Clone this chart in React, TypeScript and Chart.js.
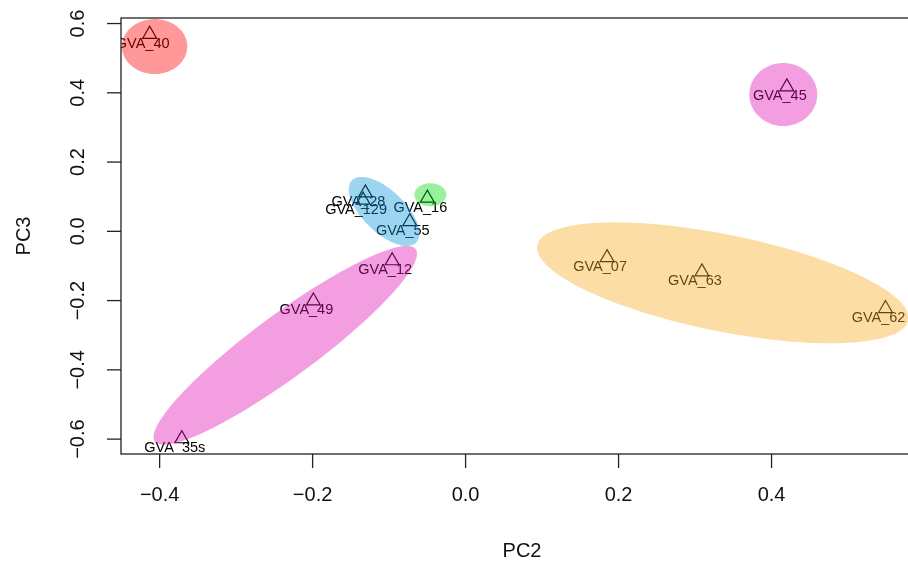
import React, { useEffect, useRef } from "react";
import { Chart, registerables } from "chart.js";

Chart.register(...registerables);

// ---- data ----
const sampleNames = ["GVA_40", "GVA_45", "GVA_28", "GVA_129", "GVA_16", "GVA_55", "GVA_12", "GVA_49", "GVA_35s", "GVA_07", "GVA_63", "GVA_62"];
const pc2Values = [-0.413, 0.42, -0.131, -0.134, -0.05, -0.073, -0.096, -0.199, -0.371, 0.185, 0.309, 0.549];
const pc3Values = [0.569, 0.417, 0.111, 0.09, 0.096, 0.028, -0.085, -0.201, -0.599, -0.076, -0.117, -0.223];

const xTicks = [-0.4, -0.2, 0, 0.2, 0.4];
const yTicks = [-0.6, -0.4, -0.2, 0, 0.2, 0.4, 0.6];
const xTitle = "PC2";
const yTitle = "PC3";
const xRange = [-0.4505, 0.598];
const yRange = [-0.643, 0.616];

// group ellipses (centre + two conjugate semi-axis vectors, data units)
const groupCenterX = [-0.4065, 0.4153, -0.0461, -0.1065, -0.2357, 0.3362];
const groupCenterY = [0.5336, 0.395, 0.1057, 0.0575, -0.3292, -0.1487];
const groupAxisUx = [0.0427, 0.0444, 0.0209, 0.042, 0.1705, 0.2425];
const groupAxisUy = [0, 0, 0, -0.0897, 0.2775, -0.1083];
const groupAxisVx = [0, 0, 0, -0.0191, 0.0243, -0.0125];
const groupAxisVy = [0.0794, 0.091, 0.0332, -0.0436, -0.073, -0.1369];
const groupColors = [
  "rgba(255,0,0,0.4)",
  "rgba(227,12,182,0.4)",
  "rgba(0,220,10,0.4)",
  "rgba(10,150,220,0.4)",
  "rgba(227,12,182,0.4)",
  "rgba(247,170,30,0.4)",
];

const fmt = (v: number) => (v === 0 ? "0.0" : v.toFixed(1).replace("-", "\u2212"));

const FONT = '"Liberation Sans", Arial, Helvetica, sans-serif';

const overlayPlugin = {
  id: "overlay",
  afterDatasetsDraw(chart: any) {
    const { ctx, chartArea: a, scales } = chart;
    const xs = scales.x;
    const ys = scales.y;
    ctx.save();
    ctx.beginPath();
    ctx.rect(a.left, a.top, a.right - a.left, a.bottom - a.top);
    ctx.clip();
    // point labels
    ctx.fillStyle = "#000";
    ctx.font = `14.5px ${FONT}`;
    ctx.textAlign = "center";
    ctx.textBaseline = "middle";
    sampleNames.forEach((n, i) => {
      const px = xs.getPixelForValue(pc2Values[i]);
      const py = ys.getPixelForValue(pc3Values[i]);
      ctx.fillText(n, px - 7, py + 9.5);
    });
    // ellipses on top (semi-transparent)
    groupCenterX.forEach((cx, g) => {
      ctx.beginPath();
      const N = 120;
      for (let k = 0; k <= N; k++) {
        const t = (k / N) * Math.PI * 2;
        const dx = cx + groupAxisUx[g] * Math.cos(t) + groupAxisVx[g] * Math.sin(t);
        const dy = groupCenterY[g] + groupAxisUy[g] * Math.cos(t) + groupAxisVy[g] * Math.sin(t);
        const px = xs.getPixelForValue(dx);
        const py = ys.getPixelForValue(dy);
        if (k === 0) ctx.moveTo(px, py);
        else ctx.lineTo(px, py);
      }
      ctx.closePath();
      ctx.fillStyle = groupColors[g];
      ctx.fill();
    });
    ctx.restore();
  },
  afterDraw(chart: any) {
    const { ctx, chartArea: a, scales } = chart;
    const xs = scales.x;
    const ys = scales.y;
    ctx.save();
    ctx.strokeStyle = "#222";
    ctx.lineWidth = 1.3;
    ctx.strokeRect(a.left, a.top, a.right - a.left, a.bottom - a.top);
    ctx.fillStyle = "#111";
    ctx.font = `20px ${FONT}`;
    ctx.textAlign = "center";
    ctx.textBaseline = "middle";
    xTicks.forEach((v) => {
      const px = xs.getPixelForValue(v);
      ctx.beginPath();
      ctx.moveTo(px, a.bottom);
      ctx.lineTo(px, a.bottom + 14);
      ctx.stroke();
      ctx.fillText(fmt(v), px, a.bottom + 41);
    });
    yTicks.forEach((v) => {
      const py = ys.getPixelForValue(v);
      ctx.beginPath();
      ctx.moveTo(a.left, py);
      ctx.lineTo(a.left - 14, py);
      ctx.stroke();
      ctx.save();
      ctx.translate(a.left - 43, py);
      ctx.rotate(-Math.PI / 2);
      ctx.fillText(fmt(v), 0, 0);
      ctx.restore();
    });
    ctx.fillText(xTitle, (a.left + a.right) / 2, a.bottom + 97);
    ctx.save();
    ctx.translate(a.left - 97, (a.top + a.bottom) / 2);
    ctx.rotate(-Math.PI / 2);
    ctx.fillText(yTitle, 0, 0);
    ctx.restore();
    ctx.restore();
  },
};

export default function App() {
  const ref = useRef<HTMLCanvasElement | null>(null);
  useEffect(() => {
    if (!ref.current) return;
    const chart = new Chart(ref.current, {
      type: "scatter",
      data: {
        datasets: [
          {
            data: pc2Values.map((x, i) => ({ x, y: pc3Values[i] })),
            pointStyle: "triangle",
            pointRadius: 8,
            pointBorderWidth: 1.2,
            borderColor: "#000",
            backgroundColor: "rgba(0,0,0,0)",
          } as any,
        ],
      },
      options: {
        animation: false,
        responsive: false,
        devicePixelRatio: 1,
        layout: { padding: { left: 121, right: 17, top: 18, bottom: 113 } },
        scales: {
          x: { type: "linear", min: xRange[0], max: xRange[1], display: false },
          y: { type: "linear", min: yRange[0], max: yRange[1], display: false },
        },
        plugins: { legend: { display: false }, tooltip: { enabled: false } },
      },
      plugins: [overlayPlugin],
    });
    return () => chart.destroy();
  }, []);
  return (
    <div style={{ position: "absolute", left: 0, top: 0, width: 908, height: 567, overflow: "hidden", background: "#fff" }}>
      <canvas ref={ref} width={940} height={567} style={{ display: "block" }} />
    </div>
  );
}
